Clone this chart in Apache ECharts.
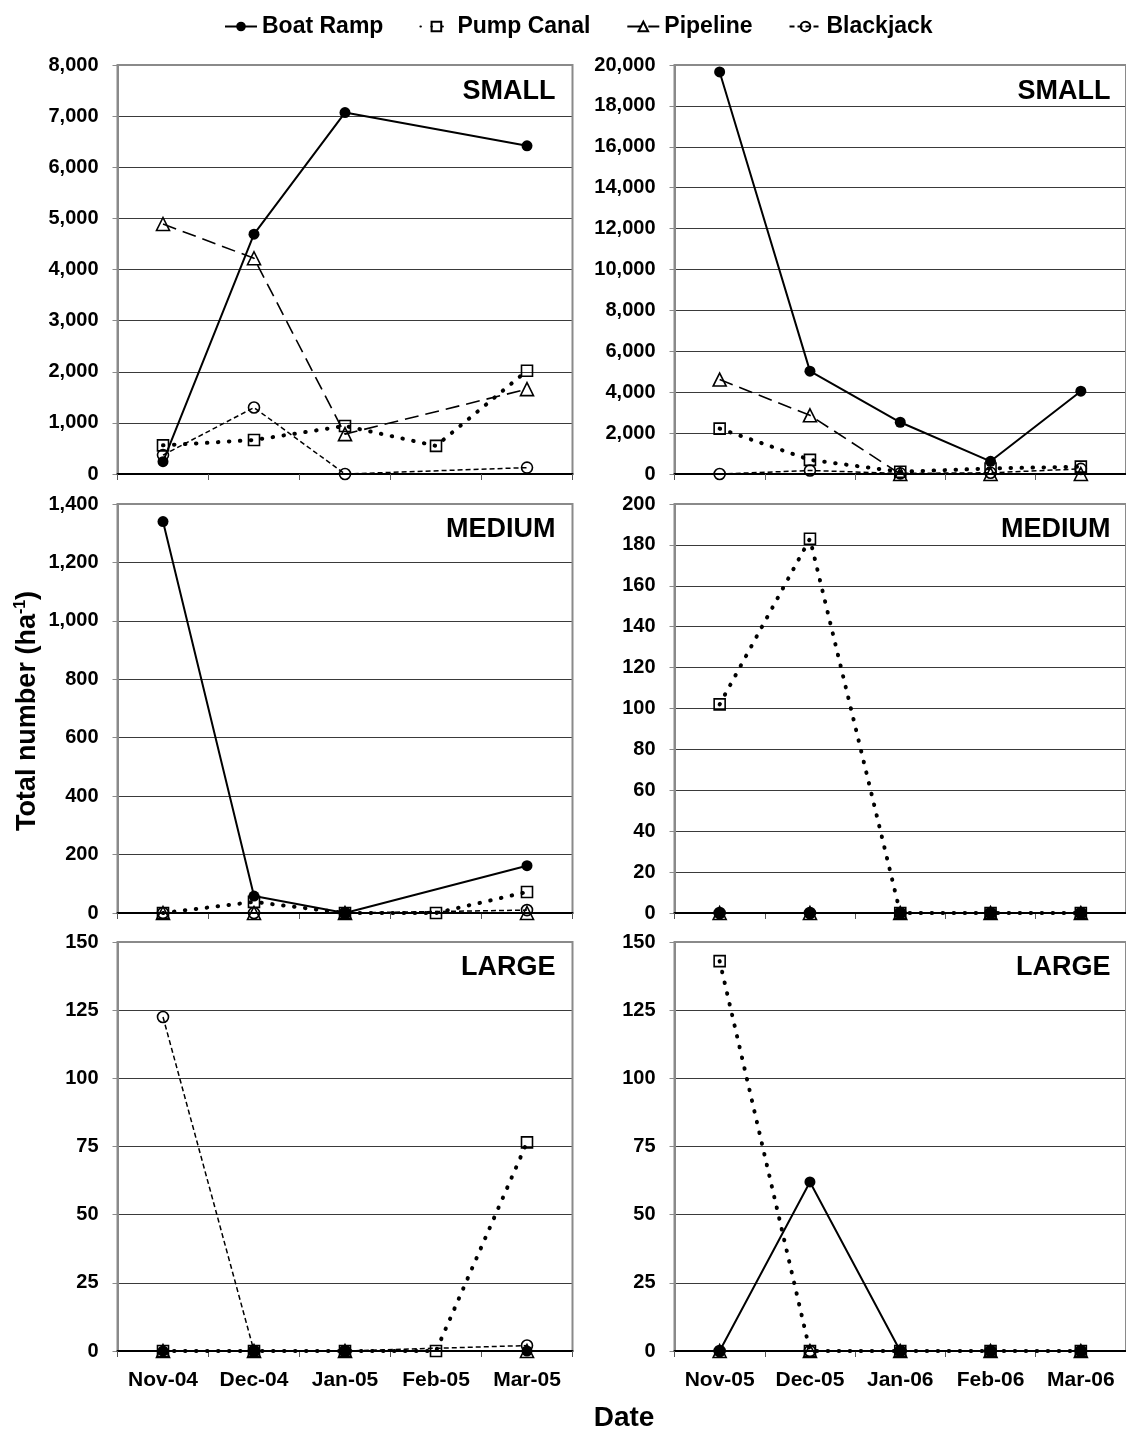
<!DOCTYPE html>
<html>
<head>
<meta charset="utf-8">
<title>Total number by size class</title>
<script src="https://cdn.jsdelivr.net/npm/echarts@6/dist/echarts.min.js"></script>
<style>
  html, body { margin: 0; padding: 0; background: #fff; }
  #chart { width: 1126px; height: 1433px; }
</style>
</head>
<body>
<div id="chart"></div>
<script>
// Sampling months for the two seasons
var months0405 = ['Nov-04', 'Dec-04', 'Jan-05', 'Feb-05', 'Mar-05'];
var months0506 = ['Nov-05', 'Dec-05', 'Jan-06', 'Feb-06', 'Mar-06'];

var siteNames = ['Boat Ramp', 'Pump Canal', 'Pipeline', 'Blackjack'];

// SMALL, 2004-05 (null = site not sampled that month)
var boatRampSmall0405  = [240, 4690, 7070, null, 6420];
var pumpCanalSmall0405 = [560, 665, 940, 550, 2020];
var pipelineSmall0405  = [4890, 4220, 780, null, 1660];
var blackjackSmall0405 = [370, 1300, 0, null, 125];

// SMALL, 2005-06
var boatRampSmall0506  = [19660, 5030, 2530, 620, 4050];
var pumpCanalSmall0506 = [2220, 690, 110, 270, 360];
var pipelineSmall0506  = [4620, 2870, 0, 0, 0];
var blackjackSmall0506 = [0, 170, 30, 60, 250];

// MEDIUM, 2004-05
var boatRampMedium0405  = [1340, 58, 0, null, 162];
var pumpCanalMedium0405 = [0, 38, 0, 0, 72];
var pipelineMedium0405  = [0, 0, 0, null, 0];
var blackjackMedium0405 = [0, 0, 0, null, 10];

// MEDIUM, 2005-06
var boatRampMedium0506  = [0, 0, 0, 0, 0];
var pumpCanalMedium0506 = [102, 183, 0, 0, 0];
var pipelineMedium0506  = [0, 0, 0, 0, 0];
var blackjackMedium0506 = [0, 0, 0, 0, 0];

// LARGE, 2004-05
var boatRampLarge0405  = [0, 0, 0, null, 0];
var pumpCanalLarge0405 = [0, 0, 0, 0, 76.5];
var pipelineLarge0405  = [0, 0, 0, null, 0];
var blackjackLarge0405 = [122.5, 0, 0, null, 2];

// LARGE, 2005-06
var boatRampLarge0506  = [0, 62, 0, 0, 0];
var pumpCanalLarge0506 = [143, 0, 0, 0, 0];
var pipelineLarge0506  = [0, 0, 0, 0, 0];
var blackjackLarge0506 = [0, 0, 0, 0, 0];

// y-axis ranges per size class
var smallMax0405 = 8000,  smallStep0405 = 1000;
var smallMax0506 = 20000, smallStep0506 = 2000;
var mediumMax0405 = 1400, mediumStep0405 = 200;
var mediumMax0506 = 200,  mediumStep0506 = 20;
var largeMax = 150,       largeStep = 25;

var FONT = '"Liberation Sans", Arial, Helvetica, sans-serif';

var colLeft = [117.5, 674.5];
var colWidth = 455;
var rowTop = [65, 504, 942];
var rowHeight = 409;

var panels = [
  { col: 0, row: 0, cats: months0405, max: smallMax0405, step: smallStep0405, label: 'SMALL',
    data: [boatRampSmall0405, pumpCanalSmall0405, pipelineSmall0405, blackjackSmall0405] },
  { col: 1, row: 0, cats: months0506, max: smallMax0506, step: smallStep0506, label: 'SMALL',
    data: [boatRampSmall0506, pumpCanalSmall0506, pipelineSmall0506, blackjackSmall0506] },
  { col: 0, row: 1, cats: months0405, max: mediumMax0405, step: mediumStep0405, label: 'MEDIUM',
    data: [boatRampMedium0405, pumpCanalMedium0405, pipelineMedium0405, blackjackMedium0405] },
  { col: 1, row: 1, cats: months0506, max: mediumMax0506, step: mediumStep0506, label: 'MEDIUM',
    data: [boatRampMedium0506, pumpCanalMedium0506, pipelineMedium0506, blackjackMedium0506] },
  { col: 0, row: 2, cats: months0405, max: largeMax, step: largeStep, label: 'LARGE',
    data: [boatRampLarge0405, pumpCanalLarge0405, pipelineLarge0405, blackjackLarge0405] },
  { col: 1, row: 2, cats: months0506, max: largeMax, step: largeStep, label: 'LARGE',
    data: [boatRampLarge0506, pumpCanalLarge0506, pipelineLarge0506, blackjackLarge0506] }
];

var hollow = { color: 'rgba(255,255,255,0)', borderColor: '#000', borderWidth: 1.6 };

// marker and line style per site
var siteStyle = {
  'Boat Ramp':  { symbol: 'circle',   symbolSize: 11, itemStyle: { color: '#000' },
                  lineStyle: { color: '#000', width: 2, type: 'solid' } },
  'Pump Canal': { symbol: 'rect',     symbolSize: 11, itemStyle: hollow,
                  lineStyle: { color: '#000', width: 4, type: [0.5, 10.5], cap: 'round' } },
  'Pipeline':   { symbol: 'triangle', symbolSize: 13, itemStyle: hollow,
                  lineStyle: { color: '#000', width: 1.6, type: [14, 7] } },
  'Blackjack':  { symbol: 'circle',   symbolSize: 11, itemStyle: hollow,
                  lineStyle: { color: '#000', width: 1.5, type: [5, 3] } }
};

function thousands(v) { return Number(v).toLocaleString('en-US'); }

var grids = [], xAxes = [], yAxes = [], series = [], texts = [];

panels.forEach(function (p, i) {
  var left = colLeft[p.col], top = rowTop[p.row];
  grids.push({
    left: left, top: top, width: colWidth, height: rowHeight,
    show: true, borderColor: '#8a8a8a', borderWidth: 2, z: 1
  });
  xAxes.push({
    type: 'category', gridIndex: i, data: p.cats, boundaryGap: true, z: 2,
    axisLine: { lineStyle: { color: '#000', width: 2 } },
    axisTick: { show: true, length: 6, lineStyle: { color: '#555', width: 1 } },
    axisLabel: {
      show: p.row === 2, interval: 0, hideOverlap: false, margin: 19, color: '#000',
      fontFamily: FONT, fontWeight: 'bold', fontSize: 21
    },
    splitLine: { show: false }
  });
  yAxes.push({
    type: 'value', gridIndex: i, min: 0, max: p.max, interval: p.step, z: 0,
    axisLine: { show: true, lineStyle: { color: '#8a8a8a', width: 2 } },
    axisTick: { show: true, length: 5, lineStyle: { color: '#8a8a8a', width: 1 } },
    axisLabel: {
      margin: 19, color: '#000', fontFamily: FONT, fontWeight: 'bold', fontSize: 20,
      formatter: thousands
    },
    splitLine: { show: true, lineStyle: { color: '#3a3a3a', width: 1 } }
  });
  siteNames.forEach(function (name, k) {
    var st = siteStyle[name];
    series.push({
      name: name, type: 'line', xAxisIndex: i, yAxisIndex: i,
      data: p.data[k], connectNulls: true, clip: false, z: 3 + k,
      symbol: st.symbol, symbolSize: st.symbolSize,
      itemStyle: st.itemStyle, lineStyle: st.lineStyle,
      emphasis: { disabled: true }, animation: false
    });
  });
  texts.push({
    type: 'text', z: 20,
    x: left + colWidth - (p.col === 0 ? 17 : 19),
    y: top + (p.row === 0 ? 27 : 26),
    style: {
      text: p.label, fill: '#000', align: 'right', verticalAlign: 'middle',
      font: 'bold 27px ' + FONT
    }
  });
});

// shared axis titles
texts.push({
  type: 'text', z: 20, x: 28, y: 711, rotation: Math.PI / 2,
  style: {
    text: '{a|Total number (ha}{b|-1}{a|)}',
    align: 'center', verticalAlign: 'middle', fill: '#000',
    rich: {
      a: { fontFamily: FONT, fontWeight: 'bold', fontSize: 27, lineHeight: 30, fill: '#000' },
      b: { fontFamily: FONT, fontWeight: 'bold', fontSize: 16, lineHeight: 30, verticalAlign: 'top', fill: '#000' }
    }
  }
});
texts.push({
  type: 'text', z: 20, x: 624, y: 1418,
  style: { text: 'Date', fill: '#000', align: 'center', verticalAlign: 'middle', font: 'bold 28px ' + FONT }
});

var chart = echarts.init(document.getElementById('chart'), null, { renderer: 'canvas' });
chart.setOption({
  backgroundColor: '#fff',
  animation: false,
  legend: {
    data: siteNames, top: 10, left: 219,
    itemWidth: 32, itemHeight: 12, itemGap: 36,
    textStyle: { fontFamily: FONT, fontWeight: 'bold', fontSize: 23, color: '#000' },
    selectedMode: false
  },
  grid: grids,
  xAxis: xAxes,
  yAxis: yAxes,
  series: series,
  graphic: texts
});
</script>
</body>
</html>
